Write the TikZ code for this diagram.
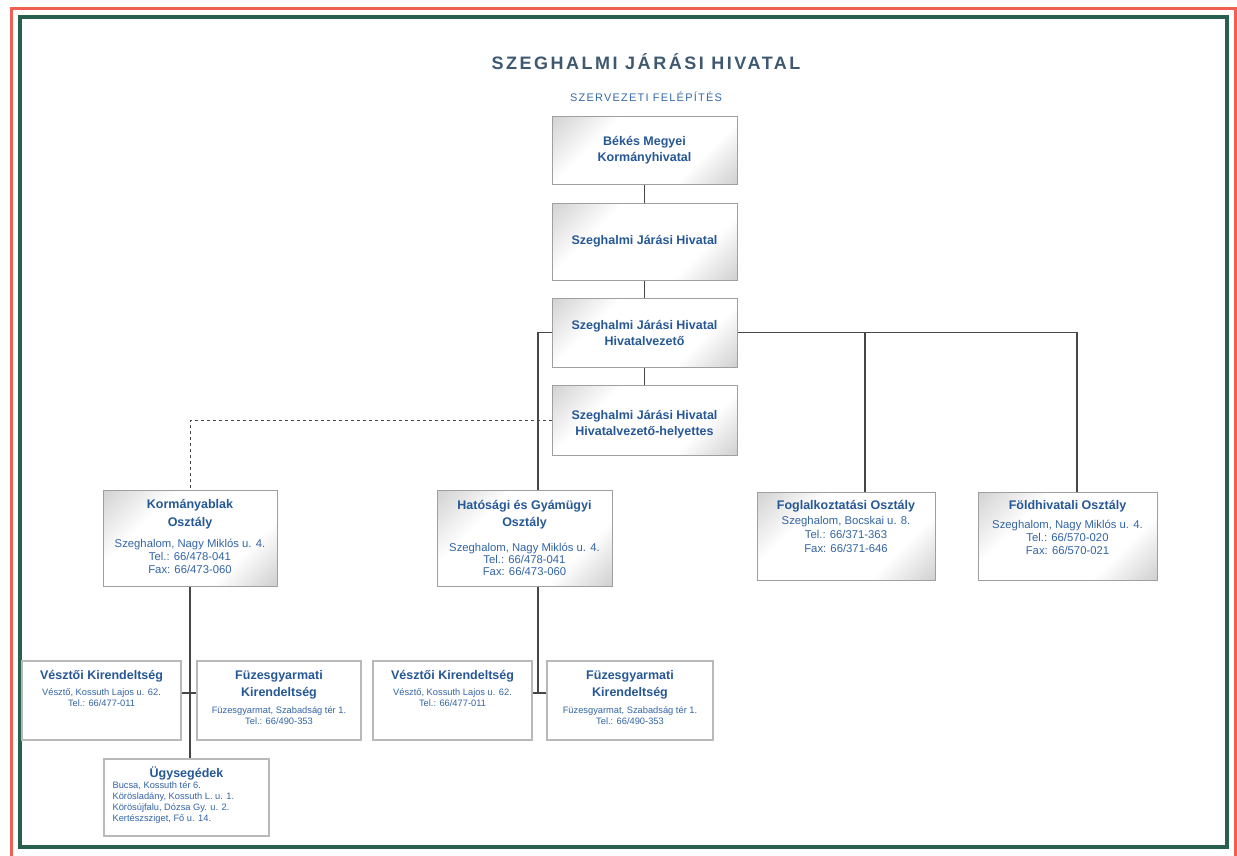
\documentclass[tikz,border=0pt]{standalone}
\usepackage{fontspec}
\setmainfont{Liberation Sans}
\usetikzlibrary{calc}
\definecolor{boxblue}{RGB}{38,88,150}
\definecolor{adrblue}{RGB}{50,100,165}
\definecolor{ttlgray}{RGB}{62,88,112}
\definecolor{subblue}{RGB}{55,105,165}
\definecolor{framered}{RGB}{240,95,80}
\definecolor{framegreen}{RGB}{40,96,80}
\definecolor{linegray}{RGB}{70,70,70}
\pgfdeclareverticalshading{boxshade}{100bp}{color(0bp)=(gray!68); color(32bp)=(white); color(66bp)=(white); color(100bp)=(gray!62)}
\newcommand\ttlf{\fontsize{12.5}{15}\selectfont\bfseries\color{boxblue}}
\newcommand\adrf{\fontsize{11.3}{15}\selectfont\mdseries\color{adrblue}}
\newcommand\smf{\fontsize{9.3}{15}\selectfont\mdseries\color{adrblue}}
\tikzset{
  shbox/.style={draw=gray!75, line width=1pt, shading=boxshade, shading angle=45, inner sep=0pt},
  plbox/.style={draw=gray!55, line width=1.3pt, fill=white, inner sep=0pt},
  txt/.style={align=center, inner sep=0pt, font=\fontsize{12}{15}\selectfont},
  conn/.style={draw=linegray, line width=1.1pt},
}
\begin{document}
\begin{tikzpicture}[x=1pt, y=-1pt]
\useasboundingbox (0,0) rectangle (1237,855);
% frames
\draw[framered, line width=3pt] (11,8) rectangle (1235,870);
\draw[framegreen, line width=4pt] (20,17) rectangle (1227,847);
% titles
\node[text=ttlgray, font=\fontsize{18}{20}\selectfont\bfseries\addfontfeatures{LetterSpace=14}] (title) at (646,62) {SZEGHALMI JÁRÁSI HIVATAL};
\node[text=subblue, font=\fontsize{11}{13}\selectfont\addfontfeatures{LetterSpace=11}] (sub) at (646,97) {SZERVEZETI FELÉPÍTÉS};
% named x/y helpers
\coordinate (x538) at (538,0);
\coordinate (x865) at (865,0);
\coordinate (x1077) at (1077,0);
\coordinate (y693) at (0,693);
% boxes
\node[shbox, minimum width=185pt, minimum height=68pt] (b1) at (644.5,150) {};
\node[shbox, minimum width=185pt, minimum height=77pt] (b2) at (644.5,241.5) {};
\node[shbox, minimum width=185pt, minimum height=69pt] (b3) at (644.5,332.5) {};
\node[shbox, minimum width=185pt, minimum height=70pt] (b4) at (644.5,420) {};
\node[shbox, minimum width=174pt, minimum height=96pt] (b5) at (190,538) {};
\node[shbox, minimum width=175pt, minimum height=96pt] (b6) at (524.5,538) {};
\node[shbox, minimum width=178pt, minimum height=88pt] (b7) at (846,536) {};
\node[shbox, minimum width=179pt, minimum height=88pt] (b8) at (1067.5,536) {};
\node[plbox, minimum width=159pt, minimum height=79pt] (b9) at (101.5,700.5) {};
\node[plbox, minimum width=164pt, minimum height=79pt] (b10) at (279,700.5) {};
\node[plbox, minimum width=159pt, minimum height=79pt] (b11) at (452.5,700.5) {};
\node[plbox, minimum width=166pt, minimum height=79pt] (b12) at (630,700.5) {};
\node[plbox, minimum width=165pt, minimum height=77pt] (b13) at (186.5,797.5) {};
% texts
\node[txt] (t1) at (b1) {\ttlf Békés Megyei\\[1pt] \ttlf Kormányhivatal};
\node[txt] (t2) at (b2) {\ttlf Szeghalmi Járási Hivatal};
\node[txt] (t3) at (b3) {\ttlf Szeghalmi Járási Hivatal\\[1pt] \ttlf Hivatalvezető};
\node[txt] (t4) at ($(b4)+(0,4)$) {\ttlf Szeghalmi Járási Hivatal\\[1pt] \ttlf Hivatalvezető-helyettes};
\node[txt, anchor=north] (t5) at ($(b5.north)+(0,10)$) {\ttlf Kormányablak\\[3pt] \ttlf Osztály\\[6pt] \adrf Szeghalom, Nagy Miklós u. 4.\\[-2pt] \adrf Tel.: 66/478-041\\[-2pt] \adrf Fax: 66/473-060};
\node[txt, anchor=north] (t6) at ($(b6.north)+(0,11)$) {\ttlf Hatósági és Gyámügyi\\[2pt] \ttlf Osztály\\[10pt] \adrf Szeghalom, Nagy Miklós u. 4.\\[-3pt] \adrf Tel.: 66/478-041\\[-3pt] \adrf Fax: 66/473-060};
\node[txt, anchor=north] (t7) at ($(b7.north)+(0,9)$) {\ttlf Foglalkoztatási Osztály\\[0pt] \adrf Szeghalom, Bocskai u. 8.\\[-1pt] \adrf Tel.: 66/371-363\\[-1pt] \adrf Fax: 66/371-646};
\node[txt, anchor=north] (t8) at ($(b8.north)+(0,9)$) {\ttlf Földhivatali Osztály\\[4pt] \adrf Szeghalom, Nagy Miklós u. 4.\\[-2pt] \adrf Tel.: 66/570-020\\[-2pt] \adrf Fax: 66/570-021};
\node[txt, anchor=north] (t9) at ($(b9.north)+(0,10)$) {\ttlf Vésztői Kirendeltség\\[1pt] \smf Vésztő, Kossuth Lajos u. 62.\\[-4pt] \smf Tel.: 66/477-011};
\node[txt, anchor=north] (t10) at ($(b10.north)+(0,10)$) {\ttlf Füzesgyarmati\\[2pt] \ttlf Kirendeltség\\[2pt] \smf Füzesgyarmat, Szabadság tér 1.\\[-4pt] \smf Tel.: 66/490-353};
\node[txt, anchor=north] (t11) at ($(b11.north)+(0,10)$) {\ttlf Vésztői Kirendeltség\\[1pt] \smf Vésztő, Kossuth Lajos u. 62.\\[-4pt] \smf Tel.: 66/477-011};
\node[txt, anchor=north] (t12) at ($(b12.north)+(0,10)$) {\ttlf Füzesgyarmati\\[2pt] \ttlf Kirendeltség\\[2pt] \smf Füzesgyarmat, Szabadság tér 1.\\[-4pt] \smf Tel.: 66/490-353};
\node[txt, anchor=north] (t13a) at ($(b13.north)+(0,8)$) {\ttlf Ügysegédek};
\node[align=left, inner sep=0pt, anchor=north west, font=\fontsize{9}{11}\selectfont] (t13b) at ($(b13.north west)+(9,23)$) {\smf Bucsa, Kossuth tér 6.\\ \smf Körösladány, Kossuth L. u. 1.\\ \smf Körösújfalu, Dózsa Gy. u. 2.\\ \smf Kertészsziget, Fő u. 14.};
% connectors
\draw[conn] (b1.south) -- (b2.north);
\draw[conn] (b2.south) -- (b3.north);
\draw[conn] (b3.south) -- (b4.north);
\draw[conn] (b3.west) -- (b3.west -| x538) -- (b6.north -| x538);
\draw[conn] (b3.east) -- (b3.east -| x1077) -- (b8.north -| x1077);
\draw[conn] (b3.east -| x865) -- (b7.north -| x865);
\draw[conn, dashed, line width=0.8pt] (b4.west) -- (b4.west -| b5.north) -- (b5.north);
\draw[conn] (b5.south) -- (b5.south |- b13.north);
\draw[conn] (b9.east |- y693) -- (b10.west |- y693);
\draw[conn] (b6.south -| x538) -- (x538 |- y693);
\draw[conn] (b11.east |- y693) -- (b12.west |- y693);
\end{tikzpicture}
\end{document}
